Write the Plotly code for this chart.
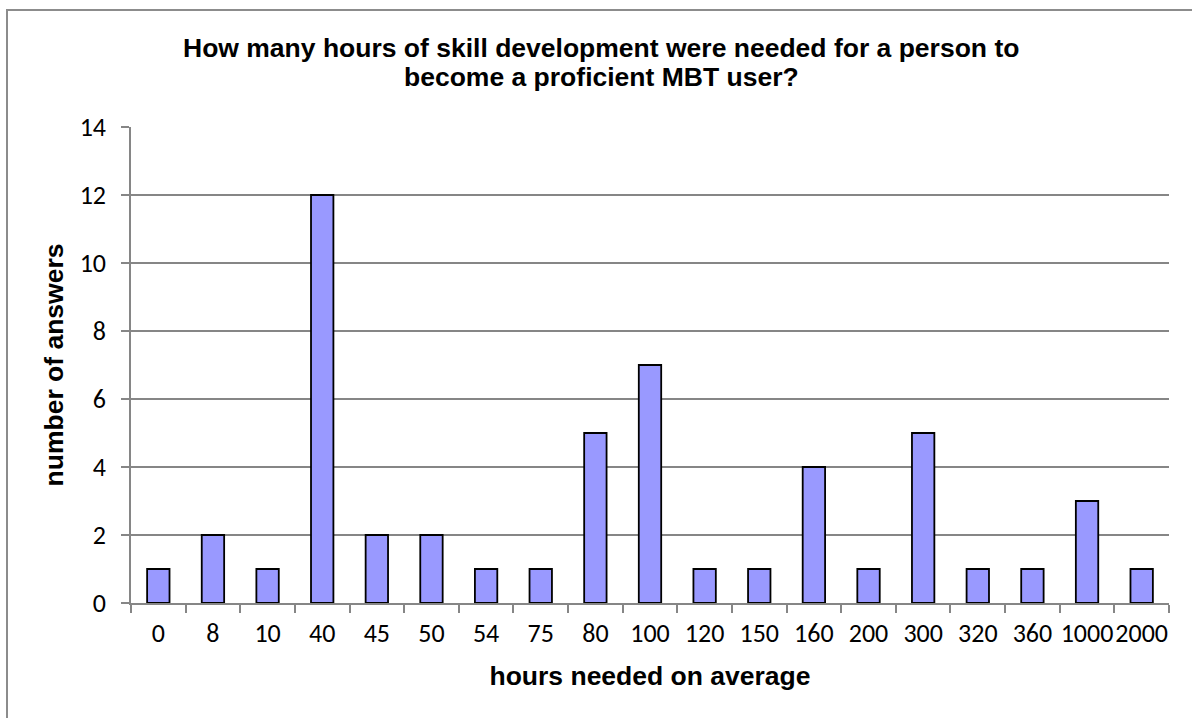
import plotly.graph_objects as go

# hours needed on average (categories) and number of answers for each
hours = ["0", "8", "10", "40", "45", "50", "54", "75", "80", "100",
         "120", "150", "160", "200", "300", "320", "360", "1000", "2000"]
answers = [1, 2, 1, 12, 2, 2, 1, 1, 5, 7, 1, 1, 4, 1, 5, 1, 1, 3, 1]
y_ticks = [0, 2, 4, 6, 8, 10, 12, 14]

title_lines = ["How many hours of skill development were needed for a person to",
               "become a proficient MBT user?"]
x_title = "hours needed on average"
y_title = "number of answers"

GRAY = "#868686"
BOLD = "Liberation Sans, Arial, sans-serif"
TICK = "Calibri, Carlito, Lato, sans-serif"

W, H = 1192, 718
L, R, T, B = 131, 23, 127, 115
pw, ph = W - L - R, H - T - B

fig = go.Figure(go.Bar(
  x=hours, y=answers,
  marker=dict(color="#9999FF", line=dict(color="black", width=1.8)),
  hoverinfo="x+y",
))

# outer chart border (runs off the right and bottom edge like the original)
fig.add_shape(
  type="rect", xref="paper", yref="paper",
  x0=(7 - L) / pw, x1=(W + 10 - L) / pw,
  y0=(H - B - (H + 10)) / ph, y1=(H - B - 10) / ph,
  line=dict(color="#8c8c8c", width=2), fillcolor="rgba(0,0,0,0)",
  layer="below",
)

# two-line title, tighter leading than plotly's own title
for line, py in zip(title_lines, [48, 77]):
  fig.add_annotation(
    text=line, showarrow=False, xref="paper", yref="paper",
    x=(601 - L) / pw, y=(H - B - py) / ph, xanchor="center", yanchor="middle",
    font=dict(family=BOLD, size=26.5, color="black", weight="bold"),
  )

fig.update_layout(
  width=W, height=H,
  margin=dict(l=L, r=R, t=T, b=B),
  paper_bgcolor="white", plot_bgcolor="white",
  showlegend=False,
  bargap=0.59,
  xaxis=dict(
    type="category", categoryorder="array", categoryarray=hours,
    showline=True, linecolor=GRAY, linewidth=1.5,
    ticks="outside", tickson="boundaries", ticklen=8, tickcolor=GRAY, tickwidth=1.5,
    tickangle=0, ticklabelstandoff=6,
    tickfont=dict(family=TICK, size=26, color="black"),
    showgrid=False,
    title=dict(text=x_title, standoff=18,
               font=dict(family=BOLD, size=26.5, color="black", weight="bold")),
  ),
  yaxis=dict(
    range=[0, 14], tickvals=y_ticks, showgrid=True, gridcolor=GRAY, gridwidth=1.5,
    showline=True, linecolor=GRAY, linewidth=1.5, zeroline=False,
    ticks="outside", ticklen=8, tickcolor=GRAY, tickwidth=1.5,
    ticklabelstandoff=10,
    tickfont=dict(family=TICK, size=26, color="black"),
    title=dict(text=y_title, standoff=8,
               font=dict(family=BOLD, size=26.5, color="black", weight="bold")),
  ),
)

fig.write_html("out.html", config={"displayModeBar": False},
               post_script="document.body.style.margin = '0';")
